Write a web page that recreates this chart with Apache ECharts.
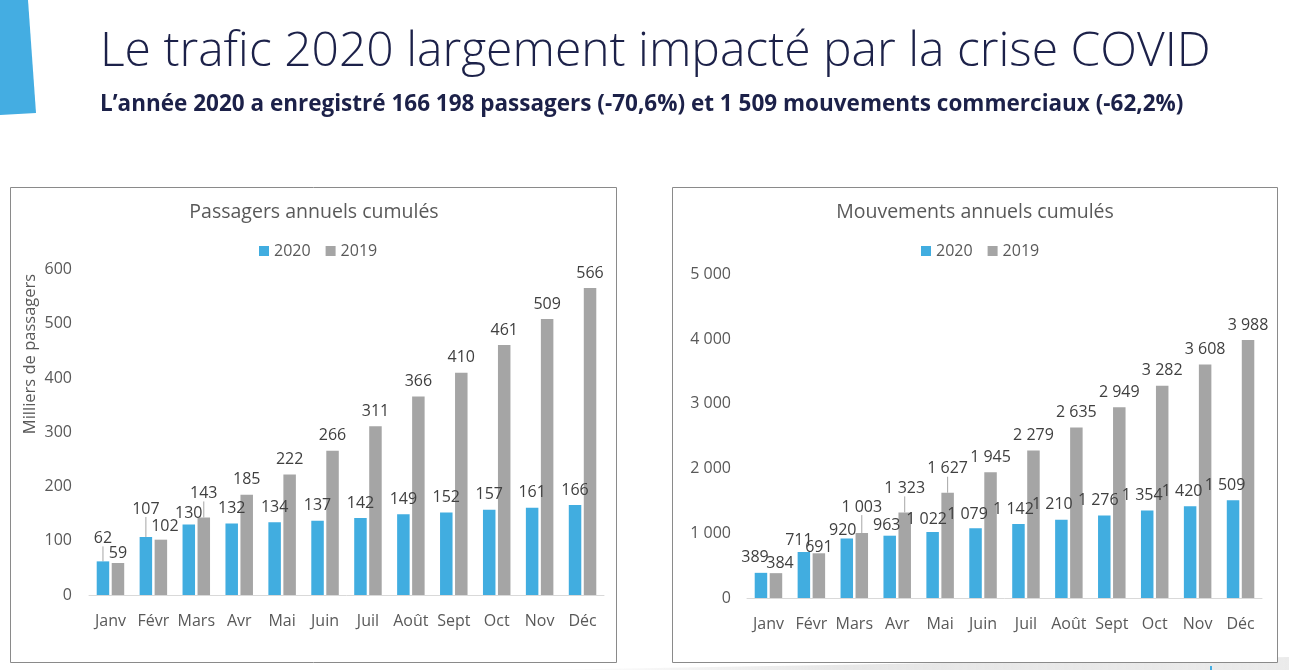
<!DOCTYPE html>
<html>
<head>
<meta charset="utf-8">
<script src="https://cdn.jsdelivr.net/npm/echarts@6/dist/echarts.min.js"></script>
<style>
html,body{margin:0;padding:0;background:#fff;}
#c{width:1289px;height:670px;}
</style>
</head>
<body>
<div id="c"></div>
<script>
// ---- data ----
const months = ['Janv','Févr','Mars','Avr','Mai','Juin','Juil','Août','Sept','Oct','Nov','Déc'];
const pax2020 = [62,107,130,132,134,137,142,149,152,157,161,166];
const pax2019 = [59,102,143,185,222,266,311,366,410,461,509,566];
const mvt2020 = [389,711,920,963,1022,1079,1142,1210,1276,1354,1420,1509];
const mvt2019 = [384,691,1003,1323,1627,1945,2279,2635,2949,3282,3608,3988];
const paxTicks = {min:0, max:600, interval:100};
const mvtTicks = {min:0, max:5000, interval:1000};

// ---- label adjustments (dx, dy) and leader lines ----
const paxOff2020 = [[0,-8],[0,-13],[0,4],[0,0],[0,0],[0,0],[0,0],[0,0],[0,0],[0,0],[0,0],[0,0]];
const paxOff2019 = [[0,5],[4,2],[0,-9],[0,0],[0,0],[0,0],[0,0],[0,0],[0,0],[0,0],[0,0],[0,0]];
const mvtOff2020 = [[-6,0],[-5,3],[-4,7],[-3,5],[-6,3],[-8,1],[-5,0],[-9,0],[-6,0],[-5,0],[-8,0],[-8,0]];
const mvtOff2019 = [[4,5],[0,9],[0,-11],[0,-9],[0,-9],[0,0],[0,0],[0,0],[0,0],[0,0],[0,0],[0,0]];
const paxLead2020 = [0,1];
const paxLead2019 = [2];
const mvtLead2020 = [];
const mvtLead2019 = [2,3,4];

const BLUE = '#41ade0';
const GREY = '#a5a5a5';
const FONT = '"Open Sans", "Noto Sans", sans-serif';

function fmt(v){ return String(v).replace(/\B(?=(\d{3})+(?!\d))/g, ' '); }

function items(vals, leads){
  return vals.map((v,i)=> leads.indexOf(i) >= 0 ? {value:v, labelLine:{show:true}} : {value:v});
}
function layoutFn(offs){
  return function(p){ const o = offs[p.dataIndex]; return {dx:o[0], dy:o[1]}; };
}
function barSeries(name, color, vals, offs, leads, axisIdx){
  return {
    type:'bar', name:name, xAxisIndex:axisIdx, yAxisIndex:axisIdx,
    data: items(vals, leads),
    barWidth:12.5, barGap:'20%',
    itemStyle:{color:color},
    label:{show:true, position:'top', distance:7, color:'#404040', fontSize:16, fontFamily:FONT,
      formatter:(p)=>fmt(p.value)},
    labelLayout: layoutFn(offs),
    labelLine:{show:false, lineStyle:{color:'#a6a6a6', width:1}},
    emphasis:{disabled:true},
    animation:false
  };
}

const chart = echarts.init(document.getElementById('c'), null, {renderer:'canvas'});

const axisLabelStyle = {color:'#595959', fontSize:16, fontFamily:FONT};
const legendBase = {top:243, padding:0, itemWidth:10, itemHeight:10, itemGap:15, icon:'rect',
  data:['2020','2019'], textStyle:{color:'#595959', fontSize:16, fontFamily:FONT}, selectedMode:false};

const option = {
  animation:false,
  textStyle:{fontFamily:FONT},
  grid:[
    {left:89, top:269.6, width:515, height:325.4},
    {left:747, top:274.5, width:515, height:323.5}
  ],
  legend:[
    Object.assign({left:259}, legendBase),
    Object.assign({left:921}, legendBase)
  ],
  xAxis:[0,1].map(i=>({
    type:'category', gridIndex:i, data:months,
    axisLine:{show:true, lineStyle:{color:'#d9d9d9', width:1}},
    axisTick:{show:false},
    axisLabel:Object.assign({margin:18, interval:0}, axisLabelStyle)
  })),
  yAxis:[
    {type:'value', gridIndex:0, min:paxTicks.min, max:paxTicks.max, interval:paxTicks.interval,
      axisLine:{show:false}, axisTick:{show:false}, splitLine:{show:false},
      axisLabel:Object.assign({margin:17}, axisLabelStyle)},
    {type:'value', gridIndex:1, min:mvtTicks.min, max:mvtTicks.max, interval:mvtTicks.interval,
      axisLine:{show:false}, axisTick:{show:false}, splitLine:{show:false},
      axisLabel:Object.assign({margin:16, formatter:(v)=>fmt(v)}, axisLabelStyle)}
  ],
  series:[
    barSeries('2020', BLUE, pax2020, paxOff2020, paxLead2020, 0),
    barSeries('2019', GREY, pax2019, paxOff2019, paxLead2019, 0),
    barSeries('2020', BLUE, mvt2020, mvtOff2020, mvtLead2020, 1),
    barSeries('2019', GREY, mvt2019, mvtOff2019, mvtLead2019, 1)
  ],
  graphic:[
    {type:'polygon', silent:true, z:-10, shape:{points:[[0,0],[28,0],[36,113],[0,115]]}, style:{fill:'#44ade2'}},
    {type:'polygon', silent:true, z:-10, shape:{points:[[540,670],[1289,657],[1289,670]]},
      style:{fill:new echarts.graphic.LinearGradient(0,0,1,0,[{offset:0,color:'rgba(225,225,225,0)'},{offset:0.4,color:'rgba(225,225,225,0.8)'},{offset:1,color:'rgba(235,235,235,1)'}])}},
    {type:'rect', silent:true, z:-5, shape:{x:10.5, y:187.5, width:606, height:475}, style:{fill:'#fff', stroke:'#8a8a8a', lineWidth:1}},
    {type:'rect', silent:true, z:-5, shape:{x:672.5, y:187.5, width:605, height:475}, style:{fill:'#fff', stroke:'#8a8a8a', lineWidth:1}},
    {type:'rect', silent:true, z:-4, shape:{x:1210, y:666, width:2, height:4}, style:{fill:'#44ade2'}},
    {type:'text', silent:true, style:{text:'Le trafic 2020 largement impacté par la crise COVID', x:100, y:52,
      font:'300 48px ' + FONT, fill:'#1c2149', textAlign:'left', textVerticalAlign:'middle'}},
    {type:'text', silent:true, style:{text:'L’année 2020 a enregistré 166 198 passagers (-70,6%) et 1 509 mouvements commerciaux (-62,2%)', x:100, y:105,
      font:'bold 22.5px ' + FONT, fill:'#1c2149', textAlign:'left', textVerticalAlign:'middle'}},
    {type:'text', silent:true, style:{text:'Passagers annuels cumulés', x:314, y:212,
      font:'19.5px ' + FONT, fill:'#595959', textAlign:'center', textVerticalAlign:'middle'}},
    {type:'text', silent:true, style:{text:'Mouvements annuels cumulés', x:975, y:212,
      font:'19.5px ' + FONT, fill:'#595959', textAlign:'center', textVerticalAlign:'middle'}},
    {type:'text', silent:true, x:30, y:354, rotation:Math.PI/2,
      style:{text:'Milliers de passagers', x:0, y:0,
      font:'16.5px ' + FONT, fill:'#595959', textAlign:'center', textVerticalAlign:'middle'}}
  ]
};
chart.setOption(option);
</script>
</body>
</html>
